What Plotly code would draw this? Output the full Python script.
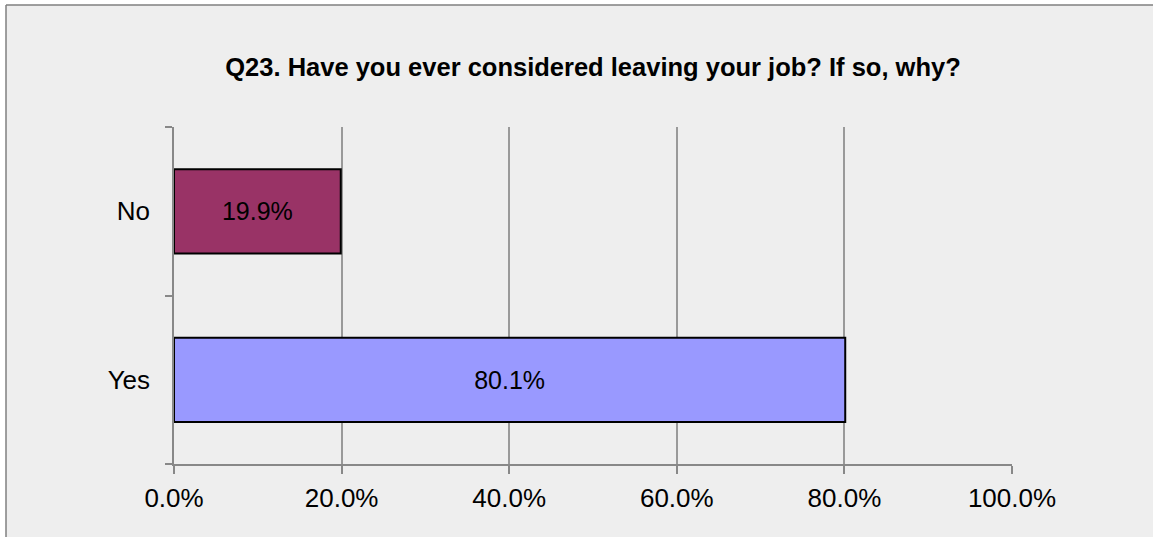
import plotly.graph_objects as go

categories = ["Yes", "No"]
values = [0.801, 0.199]
colors = ["#9999ff", "#993366"]
title_text = "Q23. Have you ever considered leaving your job? If so, why?"

W, H = 1153, 537
L, R, T, B = 174, 141, 127, 73
pw, ph = W - L - R, H - T - B

FONT = "Liberation Sans, Arial, Helvetica, sans-serif"

def px_x(p):
    return (p - L) / pw

def px_y(p):
    return (H - B - p) / ph

fig = go.Figure()
fig.add_trace(go.Bar(
    y=categories, x=values, orientation="h",
    marker=dict(color=colors, line=dict(color="#000000", width=2)),
    texttemplate="%{x:.1%}", textposition="inside", insidetextanchor="middle",
    textfont=dict(size=25, color="#000000", family=FONT),
    hoverinfo="skip",
))

border = dict(color="#7f7f7f", width=1.5)
fig.update_layout(
    width=W, height=H,
    margin=dict(l=L, r=R, t=T, b=B, autoexpand=False),
    paper_bgcolor="#eeeeee",
    plot_bgcolor="rgba(0,0,0,0)",
    bargap=0.5,
    showlegend=False,
    font=dict(family=FONT, size=26, color="#000000"),
    title=dict(text="<b>" + title_text + "</b>", x=0.5, xref="paper", xanchor="center",
               y=1 - 67 / H, yanchor="middle",
               font=dict(size=25.5, color="#000000", family=FONT)),
    shapes=[
        dict(type="rect", xref="paper", yref="paper", layer="below",
             x0=px_x(-5), x1=px_x(6), y0=px_y(H + 5), y1=px_y(-5),
             fillcolor="#ffffff", line=dict(width=0)),
        dict(type="rect", xref="paper", yref="paper", layer="below",
             x0=px_x(-5), x1=px_x(W + 5), y0=px_y(5), y1=px_y(-5),
             fillcolor="#ffffff", line=dict(width=0)),
        dict(type="line", xref="paper", yref="paper", layer="below",
             x0=px_x(6), x1=px_x(6), y0=px_y(H + 5), y1=px_y(5), line=border),
        dict(type="line", xref="paper", yref="paper", layer="below",
             x0=px_x(6), x1=px_x(W + 5), y0=px_y(5), y1=px_y(5), line=border),
    ],
)
fig.update_xaxes(
    range=[0, 1], dtick=0.2, tickformat=".1%",
    showgrid=True, gridcolor="#999999", gridwidth=1.5,
    zeroline=False, showline=True, linecolor="#888888", linewidth=1.5,
    ticks="outside", ticklen=8, tickcolor="#888888", tickwidth=1.5,
    ticklabelstandoff=2,
    tickfont=dict(size=26, color="#000000"),
    fixedrange=True,
)
fig.update_yaxes(
    categoryorder="array", categoryarray=categories,
    showgrid=False, zeroline=False,
    showline=True, linecolor="#888888", linewidth=1.5,
    ticks="outside", tickson="boundaries", ticklen=7, tickcolor="#888888", tickwidth=1.5,
    ticklabelstandoff=17,
    tickfont=dict(size=26, color="#000000"),
    fixedrange=True,
)

fig.write_html("out.html", config={"displayModeBar": False},
               post_script="document.body.style.margin='0';document.body.style.overflow='hidden';")
